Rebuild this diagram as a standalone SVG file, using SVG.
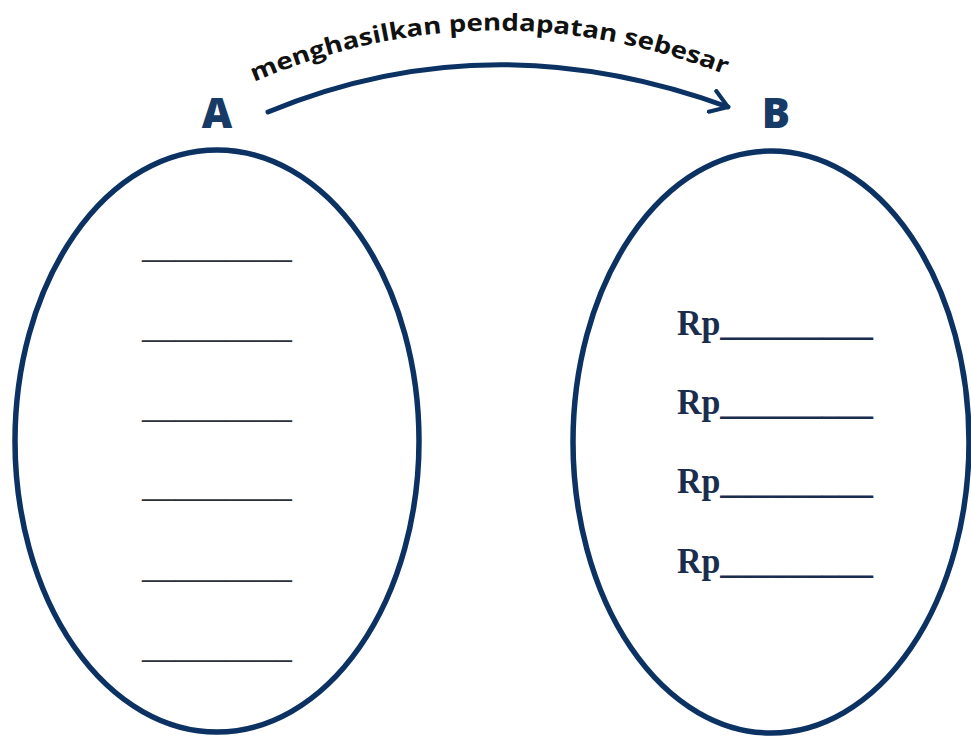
<svg xmlns="http://www.w3.org/2000/svg" width="971" height="738" viewBox="0 0 971 738">
  <style>
    .set { fill: none; stroke: #0b3263; stroke-width: 5.5; }
    .letter { font-family: "Open Sans", "Liberation Sans", sans-serif; font-weight: 800; font-size: 42px; fill: #173a66; text-anchor: middle; }
    .blank { font-family: "Liberation Serif", serif; font-size: 34px; fill: #2b2f36; }
    .rp { font-family: "Liberation Serif", serif; font-weight: bold; font-size: 35px; fill: #1a2d4e; }
    .caption { font-family: "Open Sans", "Liberation Sans", sans-serif; font-weight: 700; font-size: 23.5px; fill: #111111; }
    .link { fill: none; stroke: #0b3263; stroke-width: 5; stroke-linecap: round; }
  </style>
  <defs>
    <marker id="chevron" viewBox="0 0 12 14" refX="10" refY="7" markerWidth="4.4" markerHeight="5.2" markerUnits="strokeWidth" orient="auto">
      <path d="M1,1 L10,7 L1,13" fill="none" stroke="#0b3263" stroke-width="2.2" stroke-linecap="round" stroke-linejoin="round"/>
    </marker>
    <path id="captionArc" d="M 254,82 Q 492,-20 740,80"/>
  </defs>
  <rect width="971" height="738" fill="#ffffff"/>

  <!-- Set A: six blank entries -->
  <g id="setA">
    <ellipse class="set" cx="217" cy="441" rx="202" ry="291"/>
    <text class="letter" x="217" y="128">A</text>
    <text class="blank" x="142" y="258" textLength="150" lengthAdjust="spacingAndGlyphs">_________</text>
    <text class="blank" x="142" y="338" textLength="150" lengthAdjust="spacingAndGlyphs">_________</text>
    <text class="blank" x="142" y="418" textLength="150" lengthAdjust="spacingAndGlyphs">_________</text>
    <text class="blank" x="142" y="497" textLength="150" lengthAdjust="spacingAndGlyphs">_________</text>
    <text class="blank" x="142" y="578" textLength="150" lengthAdjust="spacingAndGlyphs">_________</text>
    <text class="blank" x="142" y="658" textLength="150" lengthAdjust="spacingAndGlyphs">_________</text>
  </g>

  <!-- Set B: four rupiah amounts -->
  <g id="setB">
    <ellipse class="set" cx="771" cy="442" rx="198" ry="291"/>
    <text class="letter" x="776" y="128">B</text>
    <text class="rp" x="677" y="335" textLength="196" lengthAdjust="spacingAndGlyphs">Rp_________</text>
    <text class="rp" x="677" y="414" textLength="196" lengthAdjust="spacingAndGlyphs">Rp_________</text>
    <text class="rp" x="677" y="493" textLength="196" lengthAdjust="spacingAndGlyphs">Rp_________</text>
    <text class="rp" x="677" y="573" textLength="196" lengthAdjust="spacingAndGlyphs">Rp_________</text>
  </g>

  <!-- Mapping arrow from A to B with its label -->
  <g id="connectors">
    <path class="link" d="M 268,112 Q 490,20 728,107" marker-end="url(#chevron)"/>
    <text class="caption"><textPath href="#captionArc" textLength="484" lengthAdjust="spacingAndGlyphs">menghasilkan pendapatan sebesar</textPath></text>
  </g>
</svg>
